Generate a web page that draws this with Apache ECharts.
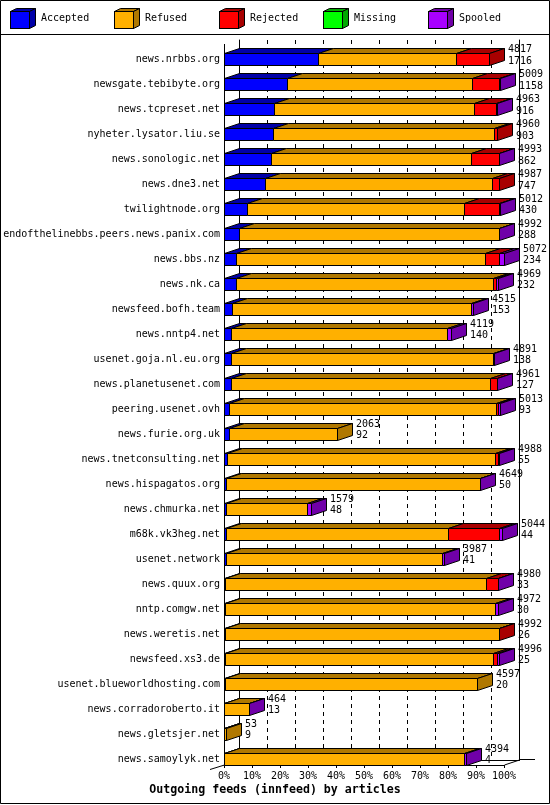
<!DOCTYPE html>
<html>
<head>
<meta charset="utf-8">
<title>Outgoing feeds (innfeed) by articles</title>
<script src="https://cdn.jsdelivr.net/npm/echarts/dist/echarts.min.js"></script>
<style>
  html, body { margin: 0; padding: 0; background: #fff; }
  #main { width: 550px; height: 805px; }
</style>
</head>
<body>
<div id="main"></div>
<script>
// hosts, sorted by accepted articles
const hosts = ['news.nrbbs.org', 'newsgate.tebibyte.org', 'news.tcpreset.net', 'nyheter.lysator.liu.se',
  'news.sonologic.net', 'news.dne3.net', 'twilightnode.org', 'endofthelinebbs.peers.news.panix.com',
  'news.bbs.nz', 'news.nk.ca', 'newsfeed.bofh.team', 'news.nntp4.net', 'usenet.goja.nl.eu.org',
  'news.planetusenet.com', 'peering.usenet.ovh', 'news.furie.org.uk', 'news.tnetconsulting.net',
  'news.hispagatos.org', 'news.chmurka.net', 'm68k.vk3heg.net', 'usenet.network', 'news.quux.org',
  'nntp.comgw.net', 'news.weretis.net', 'newsfeed.xs3.de', 'usenet.blueworldhosting.com',
  'news.corradoroberto.it', 'news.gletsjer.net', 'news.samoylyk.net'];

const totals   = [4817, 5009, 4963, 4960, 4993, 4987, 5012, 4992, 5072, 4969, 4515, 4119, 4891, 4961, 5013,
                  2063, 4988, 4649, 1579, 5044, 3987, 4980, 4972, 4992, 4996, 4597, 464, 53, 4394];
const accepted = [1716, 1158, 916, 903, 862, 747, 430, 288, 234, 232, 153, 140, 138, 127, 93,
                  92, 55, 50, 48, 44, 41, 33, 30, 26, 25, 20, 13, 9, 4];
const refused  = [2500, 3340, 3625, 3988, 3618, 4114, 3930, 4699, 4494, 4647, 4333, 3912, 4741, 4704, 4846,
                  1971, 4860, 4590, 1461, 4020, 3914, 4725, 4891, 4956, 4854, 4577, 446, 44, 4349];
const rejected = [601, 491, 399, 69, 503, 126, 627, 0, 259, 50, 0, 0, 0, 120, 37,
                  0, 60, 0, 0, 923, 0, 212, 0, 10, 72, 0, 0, 0, 0];
const missing  = [0, 0, 0, 0, 0, 0, 0, 0, 0, 0, 0, 0, 0, 0, 0,
                  0, 0, 0, 0, 0, 0, 0, 0, 0, 0, 0, 0, 0, 0];
const spooled  = [0, 20, 23, 0, 10, 0, 25, 5, 85, 40, 29, 67, 12, 10, 37,
                  0, 13, 9, 70, 57, 32, 10, 51, 0, 45, 0, 5, 0, 41];

const xTicks = [0, 10, 20, 30, 40, 50, 60, 70, 80, 90, 100];

const names  = ['Accepted', 'Refused', 'Rejected', 'Missing', 'Spooled'];
const values = [accepted, refused, rejected, missing, spooled];
const front  = ['#0000ff', '#ffb000', '#ff0000', '#00ff00', '#a800ff'];
const dark   = ['#0000a8', '#b07800', '#a80000', '#00a800', '#7000a8'];

const FONT = '"DejaVu Sans Mono", "Liberation Mono", monospace';
const DX = 15, DY = 5, H = 12;   // 3d depth and bar height in px

const maxTotal = Math.max(...totals);
const pct = v => v / maxTotal * 100;

// stack segments per row, remember which one is the last visible
let stackData = names.map(() => []);
hosts.forEach((h, i) => {
  let lastK = -1;
  values.forEach((arr, k) => { if (arr[i] > 0) lastK = k; });
  let acc = 0;
  values.forEach((arr, k) => {
    if (arr[i] > 0) {
      stackData[k].push([pct(acc), pct(acc + arr[i]), i, k === lastK ? 1 : 0]);
      acc += arr[i];
    }
  });
});

function makeRender(k) {
  return function (params, api) {
    const p0 = api.coord([api.value(0), api.value(2)]);
    const p1 = api.coord([api.value(1), api.value(2)]);
    const xs = Math.floor(p0[0]) + 0.5;
    const xe = Math.floor(p1[0]) + 0.5;
    const yT = Math.floor(p0[1] - H / 2) + 0.5;
    const yB = yT + H;
    const line = { stroke: '#000', lineWidth: 1 };
    const kids = [
      { type: 'polygon', shape: { points: [[xs, yT], [xe, yT], [xe + DX, yT - DY], [xs + DX, yT - DY]] },
        style: Object.assign({ fill: dark[k] }, line) },
      { type: 'rect', shape: { x: xs, y: yT, width: xe - xs, height: H },
        style: Object.assign({ fill: front[k] }, line) }
    ];
    if (api.value(3) === 1) {
      kids.push({ type: 'polygon', shape: { points: [[xe, yT], [xe + DX, yT - DY], [xe + DX, yB - DY], [xe, yB]] },
        style: Object.assign({ fill: dark[k] }, line) });
    }
    return { type: 'group', children: kids };
  };
}

function cubeIcon(k) {
  const svg = '<svg xmlns="http://www.w3.org/2000/svg" width="26" height="21" viewBox="0 0 26 21">' +
    '<polygon points="0.5,3.5 6.5,0.5 25.5,0.5 19.5,3.5" fill="' + dark[k] + '" stroke="#000"/>' +
    '<polygon points="19.5,3.5 25.5,0.5 25.5,17.5 19.5,20.5" fill="' + dark[k] + '" stroke="#000"/>' +
    '<rect x="0.5" y="3.5" width="19" height="17" fill="' + front[k] + '" stroke="#000"/></svg>';
  return 'image://data:image/svg+xml;charset=utf-8,' + encodeURIComponent(svg);
}

let series = names.map((n, k) => ({
  name: n,
  type: 'custom',
  xAxisIndex: 0,
  yAxisIndex: 0,
  renderItem: makeRender(k),
  encode: { x: [0, 1], y: 2 },
  data: stackData[k],
  z: 3
}));

// total / accepted labels right of each bar
series.push({
  name: 'labels',
  type: 'custom',
  xAxisIndex: 0,
  yAxisIndex: 0,
  encode: { x: 0, y: 1 },
  data: hosts.map((h, i) => [pct(totals[i]), i, totals[i], accepted[i]]),
  renderItem: function (params, api) {
    const p = api.coord([api.value(0), api.value(1)]);
    return {
      type: 'text',
      x: Math.floor(p[0]) + DX + 4,
      y: p[1] - 4,
      style: {
        text: api.value(2) + '\n' + api.value(3),
        font: '10px ' + FONT,
        fill: '#000',
        align: 'left',
        verticalAlign: 'middle',
        lineHeight: 11.5
      }
    };
  },
  z: 4
});

const legendX = [10, 114, 219, 323, 428];

const option = {
  backgroundColor: '#fff',
  animation: false,
  title: {
    text: 'Outgoing feeds (innfeed) by articles',
    left: 'center',
    top: 784,
    padding: 0,
    textStyle: { fontFamily: FONT, fontWeight: 'bold', fontSize: 11.6, color: '#000' }
  },
  legend: names.map((n, k) => ({
    data: [{ name: n, icon: cubeIcon(k) }],
    left: legendX[k],
    top: 8,
    padding: 0,
    itemWidth: 26,
    itemHeight: 21,
    selectedMode: false,
    textStyle: { fontFamily: FONT, fontSize: 10, color: '#000' }
  })),
  grid: [
    { left: 224, right: 46, top: 46.7, bottom: 33.5 },          // front plane
    { left: 239.5, width: 280, top: 40, bottom: 45 }           // back wall
  ],
  xAxis: [
    {
      type: 'value', gridIndex: 0, min: 0, max: 100, interval: 10, offset: -6.5,
      axisLine: { show: true, lineStyle: { color: '#000', width: 1 } },
      axisTick: { show: true, length: 3, lineStyle: { color: '#000' } },
      axisLabel: { formatter: v => (xTicks.indexOf(v) >= 0 ? v + '%' : ''), fontFamily: FONT, fontSize: 10, color: '#000', margin: 6 },
      splitLine: { show: false }
    },
    {
      type: 'value', gridIndex: 1, min: 0, max: 100, interval: 10,
      axisLine: { show: true, lineStyle: { color: '#000', width: 1 } },
      axisTick: { show: false },
      axisLabel: { show: false },
      splitLine: { show: true, lineStyle: { color: '#000', width: 1, type: [4, 4] } }
    }
  ],
  yAxis: [
    {
      type: 'category', gridIndex: 0, data: hosts, inverse: true,
      axisLine: { show: false },
      axisTick: { show: false },
      axisLabel: { fontFamily: FONT, fontSize: 10, color: '#000', margin: 4, interval: 0 },
      splitLine: { show: false }
    },
    {
      type: 'value', gridIndex: 1, position: 'left',
      axisLine: { show: true, lineStyle: { color: '#000', width: 1 } },
      axisTick: { show: false }, axisLabel: { show: false }, splitLine: { show: false }
    },
    {
      type: 'value', gridIndex: 1, position: 'right',
      axisLine: { show: true, lineStyle: { color: '#000', width: 1 } },
      axisTick: { show: false }, axisLabel: { show: false }, splitLine: { show: false }
    }
  ],
  graphic: [
    { type: 'rect', shape: { x: 0.5, y: 0.5, width: 549, height: 803 }, style: { fill: 'none', stroke: '#000', lineWidth: 1 }, silent: true },
    { type: 'line', shape: { x1: 0, y1: 34.5, x2: 550, y2: 34.5 }, style: { stroke: '#000', lineWidth: 1 }, silent: true },
    { type: 'line', shape: { x1: 224.5, y1: 44, x2: 224.5, y2: 765 }, style: { stroke: '#000', lineWidth: 1 }, z: 5, silent: true },
    { type: 'line', shape: { x1: 210, y1: 769.5, x2: 224.5, y2: 765 }, style: { stroke: '#000', lineWidth: 1 }, silent: true },
    { type: 'line', shape: { x1: 504.5, y1: 765, x2: 519.5, y2: 760 }, style: { stroke: '#000', lineWidth: 1 }, silent: true },
    { type: 'line', shape: { x1: 519.5, y1: 759.5, x2: 535, y2: 759.5 }, style: { stroke: '#000', lineWidth: 1 }, silent: true }
  ],
  series: series
};

let myChart = echarts.init(document.getElementById('main'));
myChart.setOption(option);
</script>
</body>
</html>
